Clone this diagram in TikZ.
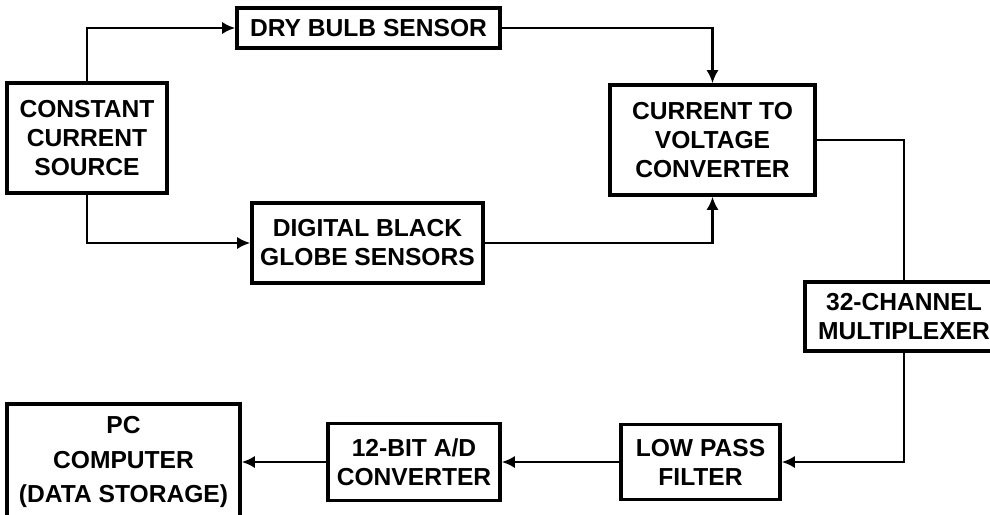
\documentclass[tikz,border=0pt]{standalone}
\usepackage{fontspec}
\setmainfont{Liberation Sans}
\usetikzlibrary{arrows.meta,positioning}

\begin{document}
\begin{tikzpicture}[x=0.02cm,y=-0.02cm]

\tikzstyle{block}=[draw,line width=2pt,inner sep=0pt,align=center,font=\fontsize{14}{16.5}\selectfont\bfseries]
\tikzstyle{link}=[line width=1.4pt]
\tikzstyle{feed}=[link,-{Latex[length=7.5pt,width=7pt]}]

\useasboundingbox (0,0) rectangle (990,514);

% sensors
\node[block, minimum width=3.2cm, minimum height=2.2cm] (source) at (87,138) {CONSTANT\\CURRENT\\SOURCE};
\node[block, minimum width=5.26cm, minimum height=0.8cm] (dry) at (368.5,28) {DRY BULB SENSOR};
\node[block, minimum width=4.62cm, minimum height=1.6cm] (globe) at (367.5,243) {DIGITAL BLACK\\GLOBE SENSORS};
\node[block, minimum width=4.1cm, minimum height=2.2cm] (conv) at (712.5,140) {CURRENT TO\\VOLTAGE\\CONVERTER};

% acquisition chain
\node[block, minimum width=3.96cm, minimum height=1.38cm] (mux) at (904,316.5) {32-CHANNEL\\MULTIPLEXER};
\node[block, minimum width=3.18cm, minimum height=1.5cm] (filter) at (700.5,462) {LOW PASS\\FILTER};
\node[block, minimum width=3.44cm, minimum height=1.54cm] (adc) at (414,462) {12-BIT A/D\\CONVERTER};
\node[block, minimum width=4.66cm, minimum height=2.32cm] (pc) at (123.5,462) {PC\\[3pt]COMPUTER\\[3pt](DATA STORAGE)};

\draw[feed] (source.north) |- (dry.west);
\draw[feed] (source.south) |- (globe.west);
\draw[feed] (dry.east) -| (conv.north);
\draw[feed] (globe.east) -| (conv.south);

\draw[link] (conv.east) -| (mux.north);
\draw[feed] (mux.south) |- (filter.east);
\draw[feed] (filter.west) -- (adc.east);
\draw[feed] (adc.west) -- (pc.east);

\end{tikzpicture}
\end{document}
